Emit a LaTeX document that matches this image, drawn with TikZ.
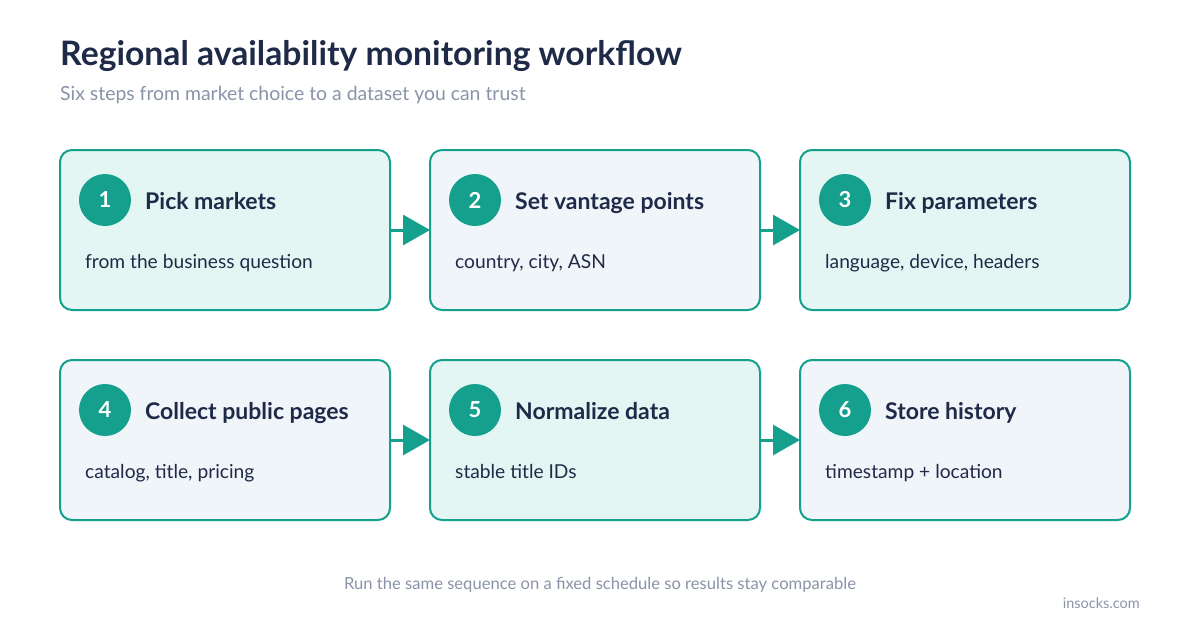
\documentclass[tikz,border=0pt]{standalone}
\usepackage{fontspec}
\setmainfont{Lato}
\usetikzlibrary{arrows.meta}
\definecolor{teal}{HTML}{14A08D}
\definecolor{navy}{HTML}{1F2A48}
\definecolor{greytxt}{HTML}{8A93A8}
\definecolor{filla}{HTML}{E4F6F3}
\definecolor{fillb}{HTML}{F0F5FA}
\tikzset{
  stepbox/.style={draw=teal, line width=2pt, rounded corners=12pt},
  numdot/.style={circle, fill=teal, minimum size=52pt, inner sep=0pt, text=white, font=\fontsize{22}{26}\selectfont\bfseries},
  steptitle/.style={anchor=base west, inner sep=0pt, text=navy, font=\fontsize{23}{27}\selectfont\bfseries},
  stepsub/.style={anchor=base west, inner sep=0pt, text=navy, font=\fontsize{19.2}{23}\selectfont},
  flow/.style={draw=teal, line width=3pt, -{Triangle[length=27pt,width=30pt]}, shorten >=0pt}
}
\begin{document}
\begin{tikzpicture}[x=1pt,y=-1pt]
\useasboundingbox (0,0) rectangle (1200,630);
\fill[white] (0,0) rectangle (1200,630);
\node[anchor=base west, inner sep=0pt, text=navy, font=\fontsize{33.7}{38}\selectfont\bfseries] (title) at (60,65) {Regional availability monitoring workflow};
\node[anchor=base west, inner sep=0pt, text=greytxt, font=\fontsize{19.4}{23}\selectfont] (subtitle) at (60,100) {Six steps from market choice to a dataset you can trust};
\foreach \i/\x/\y/\f/\n/\t/\s in {
 1/60/150/filla/1/Pick markets/from the business question,
 2/430/150/fillb/2/Set vantage points/{country, city, ASN},
 3/800/150/filla/3/Fix parameters/{language, device, headers},
 4/60/360/fillb/4/Collect public pages/{catalog, title, pricing},
 5/430/360/filla/5/Normalize data/stable title IDs,
 6/800/360/fillb/6/Store history/timestamp + location}{
  \path[stepbox, fill=\f] (\x,\y) rectangle ++(330,160);
  \coordinate (b\i w) at (\x,\y+80);
  \coordinate (b\i e) at (\x+330,\y+80);
  \node[numdot] (n\i) at (\x+45,\y+50) {\n};
  \node[steptitle] (t\i) at (\x+85,\y+59) {\t};
  \node[stepsub] (s\i) at (\x+25,\y+118) {\s};
}
\draw[flow] (b1e) -- (b2w);
\draw[flow] (b2e) -- (b3w);
\draw[flow] (b4e) -- (b5w);
\draw[flow] (b5e) -- (b6w);
\node[anchor=base, inner sep=0pt, text=greytxt, font=\fontsize{16.6}{20}\selectfont] (foot) at (600,589) {Run the same sequence on a fixed schedule so results stay comparable};
\node[anchor=base east, inner sep=0pt, text=greytxt, font=\fontsize{14.5}{17}\selectfont] (brand) at (1140,608) {insocks.com};
\end{tikzpicture}
\end{document}
